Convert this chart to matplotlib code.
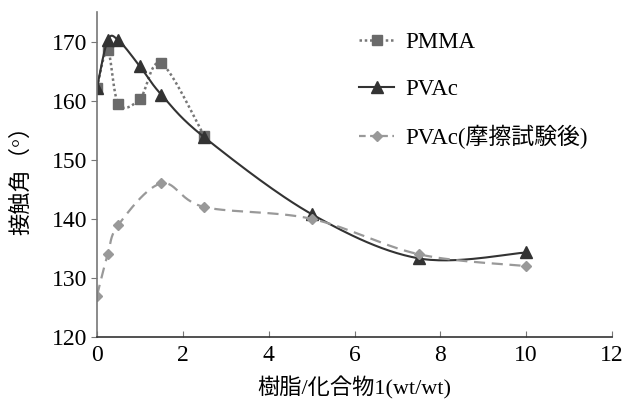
import numpy as np
import matplotlib
matplotlib.use("Agg")
import matplotlib.pyplot as plt
from matplotlib.lines import Line2D

plt.rcParams['font.family'] = ['Liberation Serif', 'Noto Sans CJK JP', 'DejaVu Sans']

# Data
pmma_x = [0, 0.25, 0.5, 1.0, 1.5, 2.5]
pmma_y = [162.2, 168.5, 159.4, 160.3, 166.3, 154.0]
pvac_x = [0, 0.25, 0.5, 1.0, 1.5, 2.5, 5, 7.5, 10]
pvac_y = [162.2, 170.2, 170.2, 165.8, 161.0, 153.8, 140.8, 133.3, 134.3]
fric_x = [0, 0.25, 0.5, 1.5, 2.5, 5, 7.5, 10]
fric_y = [127, 134, 139, 146, 142, 140, 134, 132]
labels = ['PMMA', 'PVAc', 'PVAc(摩擦試験後)']
xticks = [0, 2, 4, 6, 8, 10, 12]
yticks = [120, 130, 140, 150, 160, 170]
xlabel = '樹脂/化合物1(wt/wt)'
ylabel = '接触角（°）'


def smooth(xs, ys, n=30):
    P = np.column_stack([xs, ys]).astype(float)
    m = len(P)
    out = [P[0]]
    t = np.linspace(0, 1, n)[1:]
    for i in range(m - 1):
        p0 = P[i - 1] if i > 0 else P[i]
        p1 = P[i]
        p2 = P[i + 1]
        p3 = P[i + 2] if i + 2 < m else P[i + 1]
        c1 = p1 + (p2 - p0) / 6
        c2 = p2 - (p3 - p1) / 6
        for tt in t:
            b = ((1 - tt) ** 3) * p1 + 3 * ((1 - tt) ** 2) * tt * c1 + 3 * (1 - tt) * tt ** 2 * c2 + tt ** 3 * p2
            out.append(b)
    out = np.array(out)
    return out[:, 0], out[:, 1]


fig = plt.figure(figsize=(6.23, 4.11), dpi=100)
ax = fig.add_axes([97 / 623, 1 - 337 / 411, (612 - 97) / 623, (337 - 12) / 411])

c_pmma = '#6a6a6a'
c_pvac = '#333333'
c_fric = '#999999'

sx, sy = smooth(pmma_x, pmma_y)
ax.plot(sx, sy, color='#777777', lw=1.8, ls=(0, (1, 1.1)))
ax.plot(pmma_x, pmma_y, ls='none', marker='s', ms=6.5, color=c_pmma)

sx, sy = smooth(pvac_x, pvac_y)
ax.plot(sx, sy, color=c_pvac, lw=1.5, ls='-')
ax.plot(pvac_x, pvac_y, ls='none', marker='^', ms=8, color=c_pvac)

sx, sy = smooth(fric_x, fric_y)
ax.plot(sx, sy, color=c_fric, lw=1.6, ls=(0, (5, 3)))
ax.plot(fric_x, fric_y, ls='none', marker='D', ms=5, color=c_fric)

ax.set_xlim(0, 12)
ax.set_ylim(120, 175)
ax.set_xticks(xticks)
ax.set_yticks(yticks)
ax.spines['top'].set_visible(False)
ax.spines['right'].set_visible(False)
ax.spines['left'].set_color('#777777')
ax.spines['bottom'].set_color('#333333')
ax.spines['left'].set_linewidth(1.2)
ax.spines['bottom'].set_linewidth(1.2)
ax.tick_params(axis='y', direction='out', length=4, color='#777777', labelsize=17, pad=3)
ax.tick_params(axis='x', direction='in', length=4, color='#777777', labelsize=17, pad=6)

ax.set_xlabel(xlabel, fontsize=16, labelpad=7)
ax.set_ylabel(ylabel, fontsize=16, labelpad=14)

handles = [
    Line2D([], [], color='#777777', lw=1.8, ls=(0, (1, 1.1)), marker='s', ms=6.5, mfc=c_pmma, mec=c_pmma),
    Line2D([], [], color=c_pvac, lw=1.5, marker='^', ms=8),
    Line2D([], [], color=c_fric, lw=1.6, ls=(0, (3, 2)), marker='D', ms=5),
]
ax.legend(handles, labels, loc='upper left', bbox_to_anchor=(348 / 623, 1 - 21 / 411),
          bbox_transform=fig.transFigure, frameon=False, fontsize=16.5,
          handlelength=1.5, labelspacing=1.1, handletextpad=0.5, borderpad=0)

fig.savefig('out.png', dpi=100)
